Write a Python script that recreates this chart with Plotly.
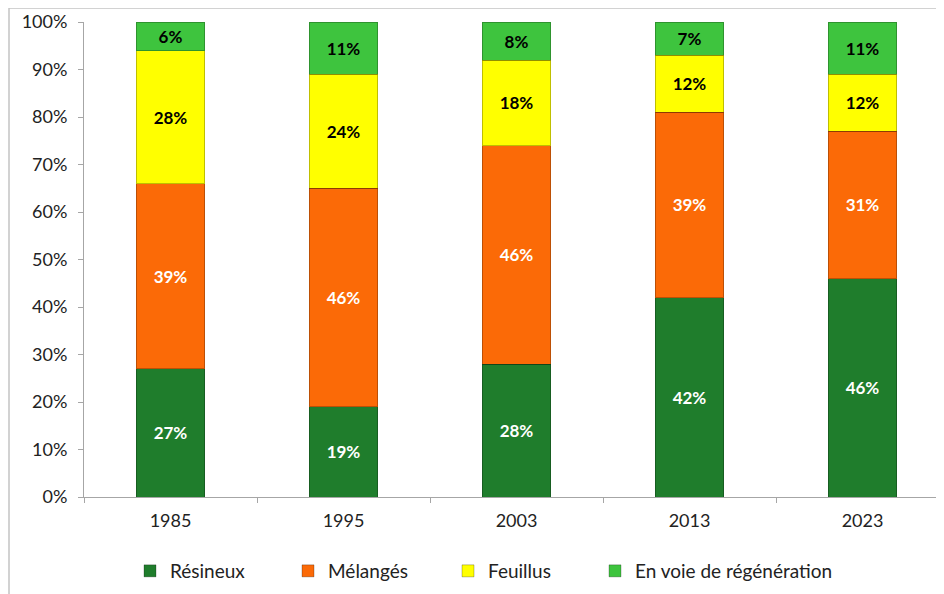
import plotly.graph_objects as go

years = ["1985", "1995", "2003", "2013", "2023"]
resineux = [27, 19, 28, 42, 46]
melanges = [39, 46, 46, 39, 31]
feuillus = [28, 24, 18, 12, 12]
regeneration = [6, 11, 8, 7, 11]

series = [
    ("Résineux", resineux, "#1f7d2c", "#ffffff"),
    ("Mélangés", melanges, "#fb6a07", "#ffffff"),
    ("Feuillus", feuillus, "#ffff00", "#000000"),
    ("En voie de régénération", regeneration, "#3ec43e", "#000000"),
]

FONT = "Lato, 'Open Sans', sans-serif"

# page has an 8px body margin; figure coordinates = page coordinates - 8
OFF = 8
W, H = 944 - OFF, 594 - OFF
l, r, t = 84 - OFF, 0, 22 - OFF
b = H - (497 - OFF)
pw, ph = W - l - r, H - t - b

def px(x):
    return (x - OFF - l) / pw

def py(y):
    return (H - b - (y - OFF)) / ph

legend_names = ["legend", "legend2", "legend3", "legend4"]
legend_x = [130, 288, 448, 595]

fig = go.Figure()
for (name, vals, col, tcol), lg in zip(series, legend_names):
    fig.add_trace(go.Bar(
        x=years, y=vals, name=name, legend=lg,
        marker=dict(color=col, line=dict(color="rgba(0,0,0,0.25)", width=1)),
        text=[f"{v}%" for v in vals],
        textposition="inside", insidetextanchor="middle",
        textfont=dict(color=tcol, size=17, family=FONT, weight="bold"),
        width=0.395,
        hoverinfo="skip",
    ))

legends = {}
for lg, lx in zip(legend_names, legend_x):
    legends[lg] = dict(orientation="h", x=px(lx), xanchor="left", y=py(571), yanchor="middle",
                       font=dict(size=19, family=FONT, color="#222222"),
                       bgcolor="rgba(0,0,0,0)")

fig.update_layout(
    width=W, height=H,
    barmode="stack",
    margin=dict(l=l, r=r, t=t, b=b),
    plot_bgcolor="white", paper_bgcolor="white",
    font=dict(family=FONT, size=18, color="#222222"),
    showlegend=True,
    **legends,
    xaxis=dict(type="category", range=[-0.5, 4.471], showline=True, linecolor="#a6a6a6",
               linewidth=1, ticks="outside", tickson="boundaries", ticklen=5,
               tickcolor="#a6a6a6", showgrid=False, ticklabelstandoff=7,
               tickfont=dict(size=18, color="#222222")),
    yaxis=dict(range=[0, 100], tickvals=list(range(0, 101, 10)),
               ticktext=[f"{v}%" for v in range(0, 101, 10)],
               showline=True, linecolor="#a6a6a6", linewidth=1, ticks="outside",
               ticklen=5, tickcolor="#a6a6a6", showgrid=False, zeroline=False,
               ticklabelstandoff=7,
               tickfont=dict(size=18, color="#222222")),
    shapes=[dict(type="rect", xref="paper", yref="paper",
                 x0=px(9), x1=px(960), y0=py(620), y1=py(8),
                 line=dict(color="#c4c4c4", width=1.5), fillcolor="rgba(0,0,0,0)", layer="below")],
)

fig.write_html("out.html")
